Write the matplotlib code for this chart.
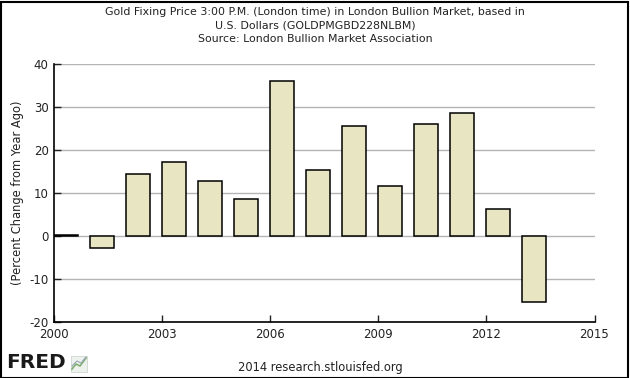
import matplotlib
matplotlib.use("Agg")
import matplotlib.pyplot as plt
from matplotlib.lines import Line2D
from matplotlib.patches import Rectangle

years = [2000, 2001, 2002, 2003, 2004, 2005, 2006, 2007, 2008, 2009, 2010, 2011, 2012, 2013]
pct_change = [0.2, -2.8, 14.4, 17.3, 12.7, 8.7, 35.9, 15.3, 25.5, 11.6, 26.0, 28.5, 6.3, -15.3]
xticks = [2000, 2003, 2006, 2009, 2012, 2015]
yticks = [-20, -10, 0, 10, 20, 30, 40]

title = ("Gold Fixing Price 3:00 P.M. (London time) in London Bullion Market, based in\n"
         "U.S. Dollars (GOLDPMGBD228NLBM)\n"
         "Source: London Bullion Market Association")
ylabel = "(Percent Change from Year Ago)"
footer = "2014 research.stlouisfed.org"

plt.rcParams['font.family'] = ['DejaVu Sans']
plt.rcParams['axes.unicode_minus'] = False
W, H = 630, 378
fig = plt.figure(figsize=(W / 100, H / 100), dpi=100)
fig.patch.set_facecolor('white')
fig.patches.append(Rectangle((0.5 / W, 0.5 / H), 1 - 2.5 / W, 1 - 2.5 / H, transform=fig.transFigure,
                             fill=False, edgecolor='black', linewidth=1.5))

ax = fig.add_axes([54.3 / W, 1 - 322.3 / H, (594.5 - 54.3) / W, (322.3 - 63.7) / H])
ax.set_xlim(2000, 2015)
ax.set_ylim(-20, 40)
ax.bar(years, pct_change, width=0.65, align='edge', color='#E8E6C2', edgecolor='black',
       linewidth=1.1, zorder=3)
ax.set_yticks(yticks)
ax.set_xticks(xticks)
ax.yaxis.grid(True, color='#B4B4B4', linewidth=1.0, zorder=0)
ax.xaxis.grid(False)
for s in ['top', 'right']:
    ax.spines[s].set_visible(False)
for s in ['left', 'bottom']:
    ax.spines[s].set_linewidth(1.2)
ax.tick_params(axis='both', direction='in', length=5, width=1, labelsize=8.5, colors='#222222')
ax.tick_params(axis='x', pad=4)
ax.tick_params(axis='y', pad=4)
ax.set_ylabel(ylabel, fontsize=8.3, labelpad=4, color='#222222')

fig.text(0.5, 1 - 7 / H, title, ha='center', va='top', fontsize=7.9, linespacing=1.45, color='#222222')
fig.text(320 / W, 1 - 367 / H, footer, ha='center', va='center', fontsize=8.3, color='#222222')
fig.text(6 / W, 1 - 363 / H, "FRED", ha='left', va='center', fontsize=14.5, fontweight='bold',
         color='#1a1a1a')
# small chart icon next to logo
fig.patches.append(Rectangle((71 / W, 1 - 372 / H), 16 / W, 16 / H, transform=fig.transFigure,
                             facecolor='#EEF2EE', edgecolor='#C8D0C8', linewidth=0.5))
fig.lines.append(Line2D([72 / W, 76 / W, 80 / W, 86 / W], [1 - 369 / H, 1 - 364 / H, 1 - 366 / H, 1 - 358 / H],
                        transform=fig.transFigure, color='#7FAF6F', linewidth=1.2))
fig.lines.append(Line2D([72 / W, 77 / W, 81 / W, 86 / W], [1 - 366 / H, 1 - 361 / H, 1 - 363 / H, 1 - 357 / H],
                        transform=fig.transFigure, color='#9AA6B8', linewidth=0.8))

fig.savefig('out.png', dpi=100)
